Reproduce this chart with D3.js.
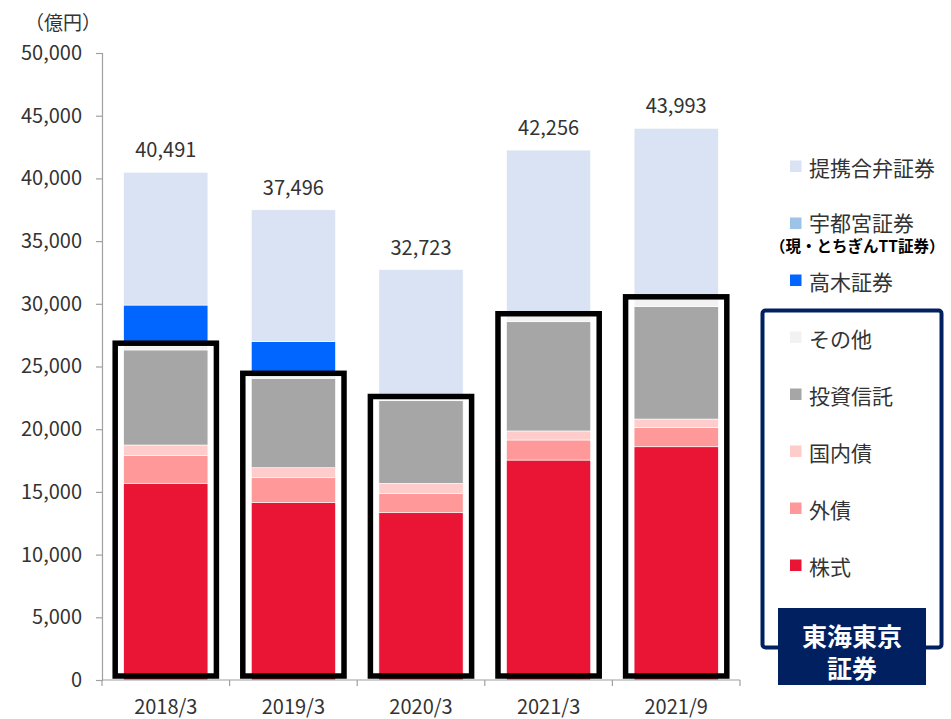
<!DOCTYPE html>
<html>
<head>
<meta charset="utf-8">
<script src="https://cdn.jsdelivr.net/npm/d3@7"></script>
<style>
  body { margin: 0; background: #fff; }
  svg text { font-family: "Noto Sans CJK JP", "Noto Sans", sans-serif; }
</style>
</head>
<body>
<div id="chart"></div>
<script>
const width = 951;
const height = 719;

// data (億円)
const periods = ["2018/3", "2019/3", "2020/3", "2021/3", "2021/9"];
const totals = [40491, 37496, 32723, 42256, 43993];

const kabushiki = [15690, 14140, 13340, 17540, 18600]; // 株式
const gaisai = [2200, 1990, 1520, 1600, 1550]; // 外債
const kokunaisai = [850, 800, 825, 720, 660]; // 国内債
const toushin = [7580, 7130, 6585, 8710, 8960]; // 投資信託
const sonota = [330, 190, 130, 430, 580]; // その他
const takagi = [3250, 2730, 0, 0, 0]; // 高木証券
const utsunomiya = [0, 0, 0, 0, 0]; // 宇都宮証券
const teikei = [10591, 10516, 10323, 13256, 13643]; // 提携合弁証券

const seriesNames = ["株式", "外債", "国内債", "投資信託", "その他", "高木証券", "宇都宮証券", "提携合弁証券"];
const seriesValues = [kabushiki, gaisai, kokunaisai, toushin, sonota, takagi, utsunomiya, teikei];
const seriesColors = ["#EA1535", "#FF9999", "#FFCCCC", "#A6A6A6", "#F2F2F2", "#0066FF", "#9DC3E6", "#DAE3F3"];
// series belonging to 東海東京証券 (boxed)
const tokaiKeys = ["株式", "外債", "国内債", "投資信託", "その他"];

const yTicks = [0, 5000, 10000, 15000, 20000, 25000, 30000, 35000, 40000, 45000, 50000];

const rows = periods.map((p, i) => {
  let row = { period: p, total: totals[i] };
  seriesNames.forEach((name, j) => (row[name] = seriesValues[j][i]));
  return row;
});

const svg = d3
  .select("#chart")
  .append("svg")
  .attr("width", width)
  .attr("height", height);

const x = d3.scaleBand().domain(periods).range([102, 740]);
const y = d3.scaleLinear().domain([0, 50000]).range([680, 53]);
const color = d3.scaleOrdinal().domain(seriesNames).range(seriesColors);

const bw = x.bandwidth() * 0.66;
const barX = (d) => x(d) + (x.bandwidth() - bw) / 2;

const stacked = d3.stack().keys(seriesNames)(rows);

// bars
svg
  .append("g")
  .selectAll("g")
  .data(stacked)
  .enter()
  .append("g")
  .attr("fill", (s) => color(s.key))
  .selectAll("rect")
  .data((s) => s.filter((d) => d[1] > d[0]))
  .enter()
  .append("rect")
  .attr("x", (d) => barX(d.data.period))
  .attr("width", bw)
  .attr("y", (d) => y(d[1]))
  .attr("height", (d) => y(d[0]) - y(d[1]))
  .attr("stroke", "#fff")
  .attr("stroke-width", 0.6);

// y axis
const yAxis = svg
  .append("g")
  .attr("transform", "translate(102,0)")
  .call(d3.axisLeft(y).tickValues(yTicks).tickSize(6).tickPadding(14).tickFormat(d3.format(",")));
yAxis.select(".domain").attr("stroke", "#A0A0A0").attr("stroke-width", 1.2);
yAxis.selectAll(".tick line").attr("stroke", "#A0A0A0").attr("stroke-width", 1.2);
yAxis.selectAll(".tick text").attr("font-size", 20).attr("fill", "#333");

svg
  .append("text")
  .attr("x", 101)
  .attr("y", 30)
  .attr("text-anchor", "end")
  .attr("font-size", 19)
  .attr("fill", "#333")
  .text("（億円）");

// x axis
const xAxisG = svg.append("g").attr("transform", "translate(0,680)");
xAxisG
  .append("line")
  .attr("x1", 102)
  .attr("x2", 740)
  .attr("stroke", "#A0A0A0")
  .attr("stroke-width", 1.2);
xAxisG
  .selectAll("line.tick")
  .data(periods.concat([null]))
  .enter()
  .append("line")
  .attr("class", "tick")
  .attr("x1", (d) => (d ? x(d) : x.range()[1]))
  .attr("x2", (d) => (d ? x(d) : x.range()[1]))
  .attr("y1", 0)
  .attr("y2", 6)
  .attr("stroke", "#A0A0A0")
  .attr("stroke-width", 1.2);
xAxisG
  .selectAll("text")
  .data(periods)
  .enter()
  .append("text")
  .attr("x", (d) => x(d) + x.bandwidth() / 2)
  .attr("y", 34)
  .attr("text-anchor", "middle")
  .attr("font-size", 20)
  .attr("fill", "#333")
  .text((d) => d);

// total labels
svg
  .append("g")
  .selectAll("text")
  .data(rows)
  .enter()
  .append("text")
  .attr("x", (d) => x(d.period) + x.bandwidth() / 2)
  .attr("y", (d) => y(d.total) - 15)
  .attr("text-anchor", "middle")
  .attr("font-size", 20)
  .attr("fill", "#333")
  .text((d) => d3.format(",")(d.total));

// 東海東京 boxes
svg
  .append("g")
  .selectAll("rect")
  .data(rows)
  .enter()
  .append("rect")
  .attr("x", (d) => barX(d.period) - 8.5)
  .attr("width", bw + 17)
  .attr("y", (d) => y(d3.sum(tokaiKeys, (k) => d[k])) - 2.6)
  .attr("height", (d) => y(0) - 4 - (y(d3.sum(tokaiKeys, (k) => d[k])) - 2.6))
  .attr("fill", "none")
  .attr("stroke", "#000")
  .attr("stroke-width", 5.5);

// legend
const legendNames = seriesNames.slice().reverse();
const legend = svg
  .append("g")
  .selectAll("g")
  .data(legendNames)
  .enter()
  .append("g")
  .attr("transform", (d, i) => `translate(790,${166 + i * 57})`);
legend
  .append("rect")
  .attr("x", 0)
  .attr("y", -5.5)
  .attr("width", 11.5)
  .attr("height", 11.5)
  .attr("fill", (d) => color(d));
legend
  .append("text")
  .attr("x", 19)
  .attr("y", (d, i) => (i === 1 ? -1 : 1))
  .attr("dominant-baseline", "central")
  .attr("font-size", 21)
  .attr("fill", "#333")
  .text((d) => d);

svg
  .append("text")
  .attr("x", 770)
  .attr("y", 245)
  .attr("dominant-baseline", "central")
  .attr("font-size", 15.5)
  .attr("font-weight", "bold")
  .attr("fill", "#000")
  .text("（現・とちぎんTT証券）");

// 東海東京証券 frame
svg
  .append("rect")
  .attr("x", 762.5)
  .attr("y", 310.5)
  .attr("width", 179)
  .attr("height", 337)
  .attr("rx", 3)
  .attr("fill", "none")
  .attr("stroke", "#002060")
  .attr("stroke-width", 4);
svg
  .append("rect")
  .attr("x", 778)
  .attr("y", 608)
  .attr("width", 148)
  .attr("height", 77)
  .attr("fill", "#002060");
svg
  .append("text")
  .attr("x", 852)
  .attr("y", 635)
  .attr("text-anchor", "middle")
  .attr("dominant-baseline", "central")
  .attr("font-size", 25)
  .attr("font-weight", "bold")
  .attr("fill", "#fff")
  .text("東海東京");
svg
  .append("text")
  .attr("x", 852)
  .attr("y", 667)
  .attr("text-anchor", "middle")
  .attr("dominant-baseline", "central")
  .attr("font-size", 25)
  .attr("font-weight", "bold")
  .attr("fill", "#fff")
  .text("証券");
</script>
</body>
</html>
